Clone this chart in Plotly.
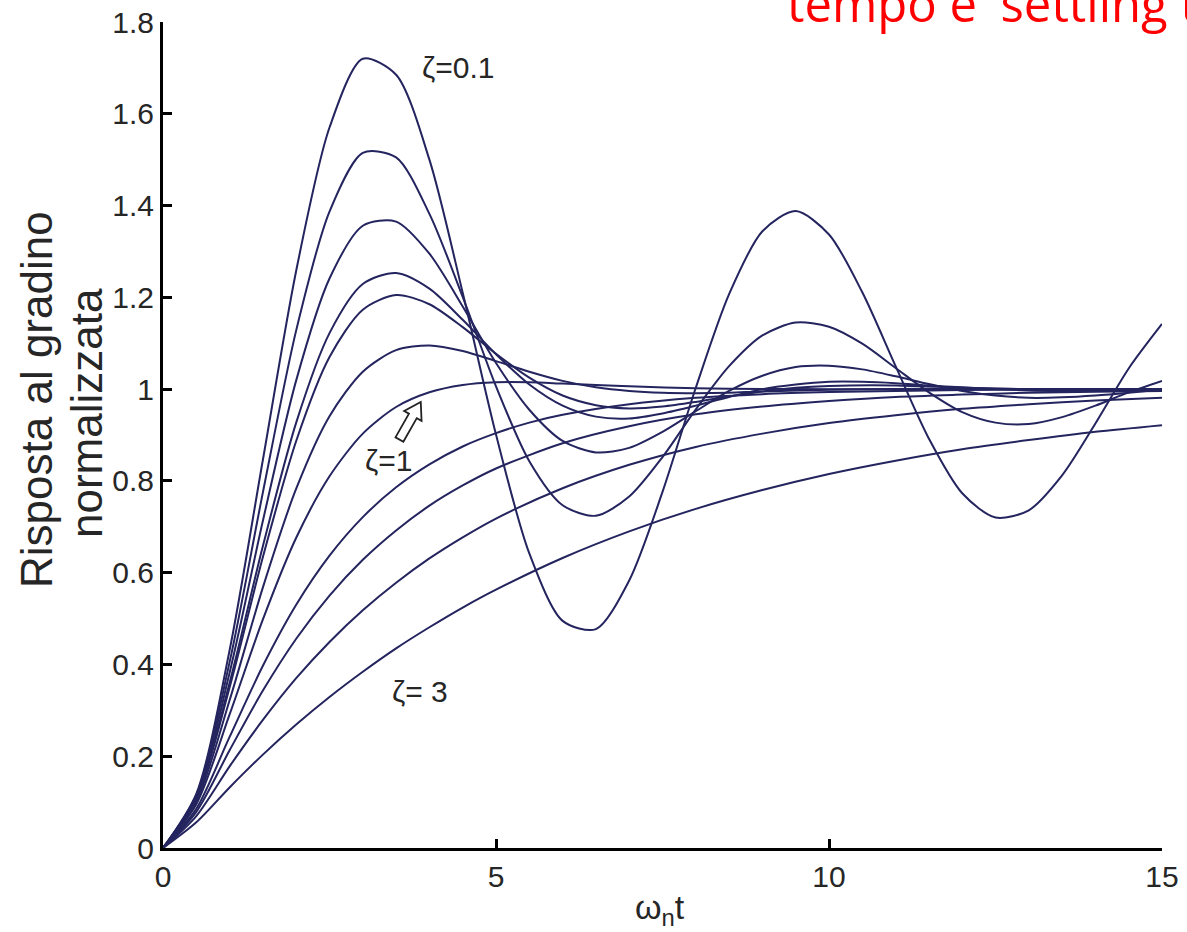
import plotly.graph_objects as go

# ---- data (normalised step responses) ----
zeta_labels = ["0.1", "0.2", "0.3", "0.4", "0.45", "0.6", "0.8", "1.2", "1.5", "2", "3"]

t_half = [0, 0.5, 1, 1.5, 2, 2.5, 3, 3.5, 4, 4.5, 5, 5.5, 6, 6.5, 7, 7.5, 8, 8.5, 9, 9.5,
          10, 10.5, 11, 11.5, 12, 12.5, 13, 13.5, 14, 14.5, 15]
t_z045 = [0, 0.5, 1, 1.5, 2, 2.5, 3, 3.5, 4, 4.5, 5, 5.5, 6, 6.5, 7, 7.5, 8, 8.5, 9, 9.5, 10,
          11, 12, 13, 14, 15]
t_z06 = [0, 0.5, 1, 1.5, 2, 2.5, 3, 3.5, 4, 4.5, 5, 5.5, 6, 6.5, 7, 7.5, 8, 8.5, 9,
         10, 11, 12, 13, 14, 15]
t_z08 = [0, 0.5, 1, 1.5, 2, 2.5, 3, 3.5, 4, 4.5, 5, 5.5, 6, 6.5,
         7, 8, 9, 10, 11, 12, 13, 14, 15]
t_z12 = [0, 0.5, 1, 1.5, 2, 2.5, 3, 3.5, 4, 4.5, 5, 5.5, 6,
         7, 8, 9, 10, 11, 12, 13, 14, 15]
t_over = [0, 0.5, 1, 1.5, 2, 2.5, 3, 3.5, 4, 4.5, 5,
          6, 7, 8, 9, 10, 11, 12, 13, 14, 15]

y_z01 = [0, 0.118, 0.431, 0.846, 1.258, 1.570, 1.720, 1.685, 1.500, 1.210,
         0.901, 0.642, 0.495, 0.477, 0.583, 0.776, 1.003, 1.207, 1.344, 1.388,
         1.337, 1.211, 1.050, 0.892, 0.773, 0.720, 0.736, 0.812, 0.925, 1.045, 1.142]
y_z02 = [0, 0.115, 0.405, 0.775, 1.128, 1.387, 1.515, 1.505, 1.382, 1.201,
         1.006, 0.843, 0.747, 0.724, 0.766, 0.852, 0.956, 1.050, 1.117, 1.145,
         1.136, 1.099, 1.046, 0.993, 0.950, 0.927, 0.924, 0.939, 0.964, 0.993, 1.018]
y_z03 = [0, 0.111, 0.382, 0.713, 1.019, 1.241, 1.356, 1.365, 1.295, 1.180,
         1.057, 0.955, 0.887, 0.862, 0.872, 0.907, 0.952, 0.996, 1.029, 1.048,
         1.051, 1.043, 1.028, 1.011, 0.996, 0.986, 0.981, 0.982, 0.986, 0.992, 0.999]
y_z04 = [0, 0.108, 0.360, 0.658, 0.927, 1.122, 1.229, 1.253, 1.219, 1.151,
         1.076, 1.010, 0.964, 0.940, 0.936, 0.947, 0.964, 0.983, 1.000, 1.010,
         1.016, 1.016, 1.013, 1.008, 1.004, 1.000, 0.997, 0.996, 0.996, 0.997, 0.998]
y_z045 = [0, 0.106, 0.350, 0.634, 0.887, 1.070, 1.173, 1.205, 1.185, 1.135,
          1.077, 1.025, 0.986, 0.965, 0.958, 0.962, 0.972, 0.984, 0.995, 1.003, 1.007,
          1.008, 1.003, 0.9995, 0.998, 0.999]
y_z06 = [0, 0.101, 0.322, 0.568, 0.783, 0.941, 1.038, 1.085, 1.095, 1.083,
         1.061, 1.038, 1.018, 1.004, 0.996, 0.992, 0.991, 0.992, 0.995,
         0.9985, 1.0005, 1.0008, 1.0004, 1.0002, 1.0]
y_z08 = [0, 0.0955, 0.291, 0.498, 0.676, 0.810, 0.903, 0.961, 0.993, 1.009,
         1.015, 1.015, 1.012, 1.009,
         1.006, 1.002, 1.0003, 0.9998, 0.9998, 0.9999, 1.0, 1.0, 1.0]
y_z12 = [0, 0.0855, 0.242, 0.397, 0.530, 0.637, 0.721, 0.786, 0.836, 0.875,
         0.904, 0.927, 0.944,
         0.967, 0.981, 0.989, 0.9935, 0.996, 0.998, 0.9987, 0.9992, 0.9996]
y_z15 = [0, 0.0788, 0.213, 0.343, 0.456, 0.550, 0.628, 0.692, 0.746, 0.790, 0.827,
         0.882, 0.919, 0.945, 0.962, 0.974, 0.983, 0.988, 0.992, 0.994, 0.996]
y_z2 = [0, 0.0697, 0.178, 0.279, 0.370, 0.449, 0.518, 0.578, 0.631, 0.677, 0.718,
        0.784, 0.835, 0.874, 0.903, 0.926, 0.943, 0.957, 0.967, 0.975, 0.981]
y_z3 = [0, 0.056, 0.132, 0.2035, 0.269, 0.329, 0.384, 0.435, 0.481, 0.524, 0.563,
        0.632, 0.690, 0.739, 0.780, 0.815, 0.844, 0.869, 0.889, 0.907, 0.9215]

x_ticks = [0, 5, 10, 15]
y_ticks = [0, 0.2, 0.4, 0.6, 0.8, 1, 1.2, 1.4, 1.6, 1.8]

series = [
    (t_half, y_z01), (t_half, y_z02), (t_half, y_z03), (t_half, y_z04),
    (t_z045, y_z045), (t_z06, y_z06), (t_z08, y_z08), (t_z12, y_z12),
    (t_over, y_z15), (t_over, y_z2), (t_over, y_z3),
]

LINE = "#24245f"
TXT = "#262626"
FONT = "Liberation Sans, Arial, sans-serif"

fig = go.Figure()
for lab, (tx, ty) in zip(zeta_labels, series):
    fig.add_trace(go.Scatter(x=tx, y=ty, mode="lines", name="ζ=" + lab,
                             line=dict(color=LINE, width=2, shape="spline", smoothing=0.8),
                             showlegend=False))

W, H = 1187, 932
ml, mr, mt, mb = 163, 25, 22, 84
X0, X1, Y0, Y1 = 0, 15, 0, 1.8
pw, ph = W - ml - mr, H - mt - mb
sx, sy = pw / (X1 - X0), ph / (Y1 - Y0)   # pixels per data unit

fig.update_layout(
    width=W, height=H,
    margin=dict(l=ml, r=mr, t=mt, b=mb, autoexpand=False),
    paper_bgcolor="white", plot_bgcolor="white",
    font=dict(family=FONT, color=TXT, size=30),
)
fig.update_xaxes(range=[X0, X1], tickvals=x_ticks, showgrid=False, zeroline=False,
                 showline=True, linecolor="black", linewidth=3, mirror=False,
                 ticks="inside", ticklen=9, tickwidth=3, tickcolor="black",
                 tickfont=dict(size=30, color=TXT, family=FONT), ticklabelstandoff=0,
                 automargin=False)
fig.update_yaxes(range=[Y0, Y1], tickvals=y_ticks, showgrid=False, zeroline=False,
                 showline=True, linecolor="black", linewidth=3, mirror=False,
                 ticks="inside", ticklen=9, tickwidth=3, tickcolor="black",
                 tickfont=dict(size=30, color=TXT, family=FONT), ticklabelstandoff=0,
                 automargin=False)

def px2paper_x(px):
    return (px - ml) / pw

def px2paper_y(py):
    return (H - mb - py) / ph

ann = []
ann.append(dict(x=4.43, y=1.70, xref="x", yref="y", text="ζ=0.1", showarrow=False,
                font=dict(size=30, color=TXT, family=FONT)))
ann.append(dict(x=3.38, y=0.845, xref="x", yref="y", text="ζ=1", showarrow=False,
                font=dict(size=30, color=TXT, family=FONT)))
ann.append(dict(x=3.86, y=0.34, xref="x", yref="y", text="ζ= 3", showarrow=False,
                font=dict(size=30, color=TXT, family=FONT)))

# hollow block arrow next to the ζ=1 label (built in pixel geometry, placed in data units)
tail = (3.55, 0.890)
tip = (3.87, 0.972)
tx_, ty_ = tail[0] * sx, -tail[1] * sy
hx_, hy_ = tip[0] * sx, -tip[1] * sy
dx, dy = hx_ - tx_, hy_ - ty_
L = (dx * dx + dy * dy) ** 0.5
ux, uy = dx / L, dy / L
nx, ny = -uy, ux
sw, hw, hl = 4.5, 10.0, 16.0
bx, by = hx_ - ux * hl, hy_ - uy * hl
pts = [
    (tx_ + nx * sw, ty_ + ny * sw),
    (bx + nx * sw, by + ny * sw),
    (bx + nx * hw, by + ny * hw),
    (hx_, hy_),
    (bx - nx * hw, by - ny * hw),
    (bx - nx * sw, by - ny * sw),
    (tx_ - nx * sw, ty_ - ny * sw),
]
path = "M " + " L ".join(f"{p[0] / sx:.4f},{-p[1] / sy:.4f}" for p in pts) + " Z"
fig.add_shape(type="path", path=path, xref="x", yref="y",
              fillcolor="white", line=dict(color="#222222", width=1.8))

# axis titles
ann.append(dict(x=px2paper_x(660), y=px2paper_y(909), xref="paper", yref="paper",
                text="ω<sub>n</sub>t", showarrow=False, xanchor="center", yanchor="middle",
                font=dict(size=34, color=TXT, family=FONT)))
ann.append(dict(x=px2paper_x(36), y=px2paper_y(400), xref="paper", yref="paper",
                text="Risposta al gradino", textangle=-90, showarrow=False,
                xanchor="center", yanchor="middle",
                font=dict(size=44, color=TXT, family=FONT)))
ann.append(dict(x=px2paper_x(86), y=px2paper_y(413), xref="paper", yref="paper",
                text="normalizzata", textangle=-90, showarrow=False,
                xanchor="center", yanchor="middle",
                font=dict(size=44, color=TXT, family=FONT)))
# red slide title, cut by the page edge
ann.append(dict(x=px2paper_x(785), y=px2paper_y(38), xref="paper", yref="paper",
                text="tempo e' settling time", showarrow=False,
                xanchor="left", yanchor="bottom",
                font=dict(size=49, color="#ff0000", family="Open Sans, sans-serif")))
fig.update_layout(annotations=ann)

fig.write_html("out.html", config={"displayModeBar": False},
               post_script="document.body.style.margin='0';document.body.style.overflow='hidden';")
